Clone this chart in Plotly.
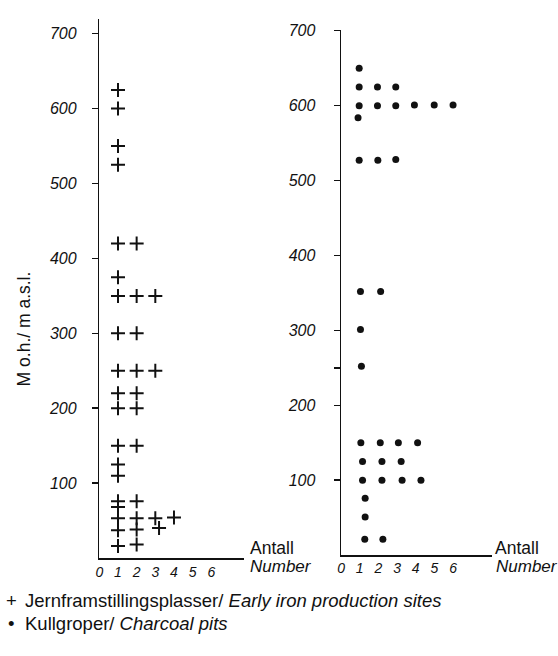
import plotly.graph_objects as go

W, H = 558, 656

# ---- Data: left panel, early iron production sites (+) ----
iron_count = [1, 1, 1, 1,
              1, 2,
              1,
              1, 2, 3,
              1, 2,
              1, 2, 3,
              1, 2,
              1, 2,
              1, 2,
              1, 1,
              1, 2,
              1,
              1, 2, 3, 4,
              1, 2, 3.2,
              1, 2]
iron_alt = [625, 600, 550, 525,
            420, 420,
            375,
            350, 350, 350,
            300, 300,
            250, 250, 250,
            220, 220,
            200, 200,
            150, 150,
            125, 110,
            76, 76,
            68,
            53, 53, 53, 54,
            37, 38, 40,
            16, 18]

# ---- Data: right panel, charcoal pits (dots) ----
pit_count = [0.97, 1.95, 2.93,
             0.97,
             0.97, 1.95, 2.93, 3.93, 4.99, 6.0,
             0.91,
             0.97, 1.97, 2.93,
             1.04, 2.12,
             1.04,
             1.09,
             1.06, 2.1, 3.07, 4.1,
             1.15, 2.19, 3.22,
             1.15, 2.19, 3.27, 4.28,
             1.29, 1.29,
             1.27, 2.24]
pit_alt = [625, 625, 625,
           650,
           600, 600, 600, 601, 601, 601,
           584,
           527, 527, 528,
           352, 352,
           301,
           252,
           150, 150, 150, 150,
           125, 125, 125,
           100, 100, 100, 100,
           76, 51,
           21, 21]

y_ticks = [100, 200, 300, 400, 500, 600, 700]
y_ticktext = [str(v) for v in y_ticks]
x_ticks = [0, 1, 2, 3, 4, 5, 6]
x_ticktext = [str(v) for v in x_ticks]

FONT = "Liberation Sans"


def px_x(p):
    return p / W


def px_y(p):
    return 1 - p / H


fig = go.Figure()

fig.add_trace(go.Scatter(
    x=iron_count, y=iron_alt, mode="markers",
    marker=dict(symbol="cross-thin", size=10, line=dict(width=2, color="#111")),
    xaxis="x", yaxis="y", showlegend=False, hoverinfo="skip"))

fig.add_trace(go.Scatter(
    x=pit_count, y=pit_alt, mode="markers",
    marker=dict(symbol="circle", size=7, color="#111"),
    xaxis="x2", yaxis="y2", showlegend=False, hoverinfo="skip"))

unit = 18.8
ppm = 530 / 700.0

# left panel geometry
lx0, lx1 = 96, 242
ly0, ly1 = 557, 12
# right panel geometry
rx0, rx1 = 339.5, 492
ry0, ry1 = 554, 23

common_x = dict(showgrid=False, zeroline=False, showline=True, linecolor="#111",
                linewidth=1.5, tickmode="array", tickvals=x_ticks, ticktext=x_ticktext,
                ticks="", tickfont=dict(family=FONT, size=14, color="#111", style="italic"),
                fixedrange=True)
common_y = dict(showgrid=False, zeroline=False, showline=True, linecolor="#111",
                linewidth=1.5, tickmode="array",
                ticks="outside", ticklen=6, tickwidth=1.5, tickcolor="#111",
                tickfont=dict(family=FONT, size=16, color="#111", style="italic"),
                fixedrange=True)

fig.update_layout(
    width=W, height=H,
    margin=dict(l=0, r=0, t=0, b=0),
    paper_bgcolor="white", plot_bgcolor="white",
    xaxis=dict(domain=[px_x(lx0), px_x(lx1)], range=[0, (lx1 - lx0) / unit],
               anchor="y", ticklabelstandoff=1, **common_x),
    yaxis=dict(domain=[px_y(ly0), px_y(ly1)], range=[0, (ly0 - ly1) / ppm],
               anchor="x", tickvals=y_ticks, ticktext=y_ticktext,
               ticklabelstandoff=12, **common_y),
    xaxis2=dict(domain=[px_x(rx0), px_x(rx1)], range=[0, (rx1 - rx0) / unit],
                anchor="y2", ticklabelstandoff=0, **common_x),
    yaxis2=dict(domain=[px_y(ry0), px_y(ry1)], range=[0, (ry0 - ry1) / ppm],
                anchor="x2", tickvals=y_ticks + [250], ticktext=y_ticktext + [""],
                ticklabelstandoff=15, **common_y),
)

ann = []
# y-axis title
ann.append(dict(text="M o.h./ m a.s.l.", x=px_x(20), y=px_y(325), xref="paper", yref="paper",
                textangle=-90, showarrow=False, xanchor="center", yanchor="middle",
                font=dict(family=FONT, size=17.5, color="#111")))
# Antall / Number labels
for x0 in (246, 492.7):
    ann.append(dict(text="Antall", x=px_x(x0), y=px_y(547), xref="paper", yref="paper",
                    showarrow=False, xanchor="left", yanchor="middle",
                    font=dict(family=FONT, size=17.5, color="#111")))
for x0 in (246, 494):
    ann.append(dict(text="<i>Number</i>", x=px_x(x0), y=px_y(566), xref="paper", yref="paper",
                    showarrow=False, xanchor="left", yanchor="middle",
                    font=dict(family=FONT, size=17, color="#111")))
# legend
ann.append(dict(text="+", x=px_x(7.5), y=px_y(600), xref="paper", yref="paper",
                showarrow=False, xanchor="center", yanchor="middle",
                font=dict(family=FONT, size=18.5, color="#111")))
ann.append(dict(text="Jernframstillingsplasser/ <i>Early iron production sites</i>",
                x=px_x(19), y=px_y(600), xref="paper", yref="paper",
                showarrow=False, xanchor="left", yanchor="middle",
                font=dict(family=FONT, size=18.5, color="#111")))
ann.append(dict(text="•", x=px_x(7.5), y=px_y(623), xref="paper", yref="paper",
                showarrow=False, xanchor="center", yanchor="middle",
                font=dict(family=FONT, size=18.5, color="#111")))
ann.append(dict(text="Kullgroper/ <i>Charcoal pits</i>",
                x=px_x(19), y=px_y(623), xref="paper", yref="paper",
                showarrow=False, xanchor="left", yanchor="middle",
                font=dict(family=FONT, size=18.5, color="#111")))
fig.update_layout(annotations=ann)

fig.write_html(
    "out.html",
    config={"displayModeBar": False, "staticPlot": True},
    post_script="document.body.style.margin='0';document.body.style.overflow='hidden';",
)
